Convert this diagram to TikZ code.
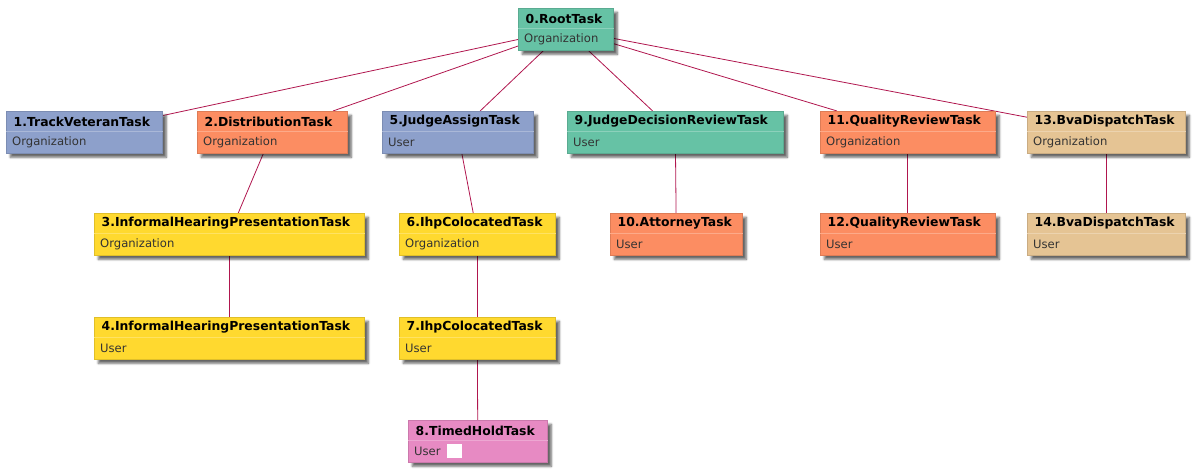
\documentclass[tikz,border=0pt]{standalone}
\usepackage{fontspec}
\setmainfont{DejaVu Sans}
\usetikzlibrary{shadows.blur}
\pgfdeclarelayer{background}
\pgfsetlayers{background,main}
\definecolor{cgreen}{HTML}{66C2A5}
\definecolor{corange}{HTML}{FC8D62}
\definecolor{cblue}{HTML}{8DA0CB}
\definecolor{cpink}{HTML}{E78AC3}
\definecolor{cyellow}{HTML}{FFD92F}
\definecolor{ctan}{HTML}{E5C494}
\definecolor{linkred}{HTML}{B0164E}
\definecolor{subgray}{HTML}{333333}
\tikzset{
  box/.style={rectangle, inner sep=0pt, anchor=north west, line width=0.6pt,
    blur shadow={shadow xshift=4pt, shadow yshift=-4pt, shadow blur steps=6, shadow opacity=60}},
  ttl/.style={anchor=west, inner sep=0pt, font=\fontsize{12.4}{14}\selectfont\bfseries, text=black},
  sub/.style={anchor=west, inner sep=0pt, font=\fontsize{11.6}{13}\selectfont, text=subgray},
  link/.style={draw=linkred, line width=0.8pt},
}
\newcommand\taskbox[8]{%
  \node[box, fill=#6, draw=#6!88!black, minimum width={(#4-#2)*1pt}, minimum height={(#5-#3)*1pt}] (#1) at (#2,#3) {};
  \draw[#6!75!white, line width=0.6pt] ([yshift=-20pt]#1.north west) -- ([yshift=-20pt]#1.north east);
  \node[ttl] (#1t) at ([xshift=7.5pt,yshift=-10.5pt]#1.north west) {#7};
  \node[sub] (#1s) at ([xshift=6pt,yshift=-31.5pt]#1.north west) {#8};
}
\begin{document}
\begin{tikzpicture}[x=1pt,y=-1pt]
\useasboundingbox (0,0) rectangle (1195,472);
\taskbox{n0}{518}{8}{613}{50}{cgreen}{0.RootTask}{Organization}
\taskbox{n1}{6}{111}{162}{153}{cblue}{1.TrackVeteranTask}{Organization}
\taskbox{n2}{197}{111}{347}{153}{corange}{2.DistributionTask}{Organization}
\taskbox{n5}{382}{111}{533}{153}{cblue}{5.JudgeAssignTask}{User}
\taskbox{n9}{567}{111}{783}{153}{cgreen}{9.JudgeDecisionReviewTask}{User}
\taskbox{n11}{820}{111}{995}{153}{corange}{11.QualityReviewTask}{Organization}
\taskbox{n13}{1027}{111}{1185}{153}{ctan}{13.BvaDispatchTask}{Organization}
\taskbox{n3}{94}{213}{364}{255}{cyellow}{3.InformalHearingPresentationTask}{Organization}
\taskbox{n6}{399}{213}{555}{255}{cyellow}{6.IhpColocatedTask}{Organization}
\taskbox{n10}{610}{213}{742}{255}{corange}{10.AttorneyTask}{User}
\taskbox{n12}{820}{213}{995}{255}{corange}{12.QualityReviewTask}{User}
\taskbox{n14}{1027}{213}{1185}{255}{ctan}{14.BvaDispatchTask}{User}
\taskbox{n4}{94}{317}{364}{359}{cyellow}{4.InformalHearingPresentationTask}{User}
\taskbox{n7}{399}{317}{555}{359}{cyellow}{7.IhpColocatedTask}{User}
\taskbox{n8}{408}{420}{547}{462}{cpink}{8.TimedHoldTask}{User}
\node[fill=white, inner sep=0pt, minimum width=15pt, minimum height=14pt, anchor=north west] (n8w) at (447,444) {};
\begin{pgfonlayer}{background}
\draw[link] (n0) -- (n1);
\draw[link] (n0) -- (n2);
\draw[link] (n0) -- (n5);
\draw[link] (n0) -- (n9);
\draw[link] (n0) -- (n11);
\draw[link] (n0) -- (n13);
\draw[link] (n2) -- (n3);
\draw[link] (n3) -- (n4);
\draw[link] (n5) -- (n6);
\draw[link] (n6) -- (n7);
\draw[link] (n7) -- (n8);
\draw[link] (n9) -- (n10);
\draw[link] (n11) -- (n12);
\draw[link] (n13) -- (n14);
\end{pgfonlayer}
\end{tikzpicture}
\end{document}
